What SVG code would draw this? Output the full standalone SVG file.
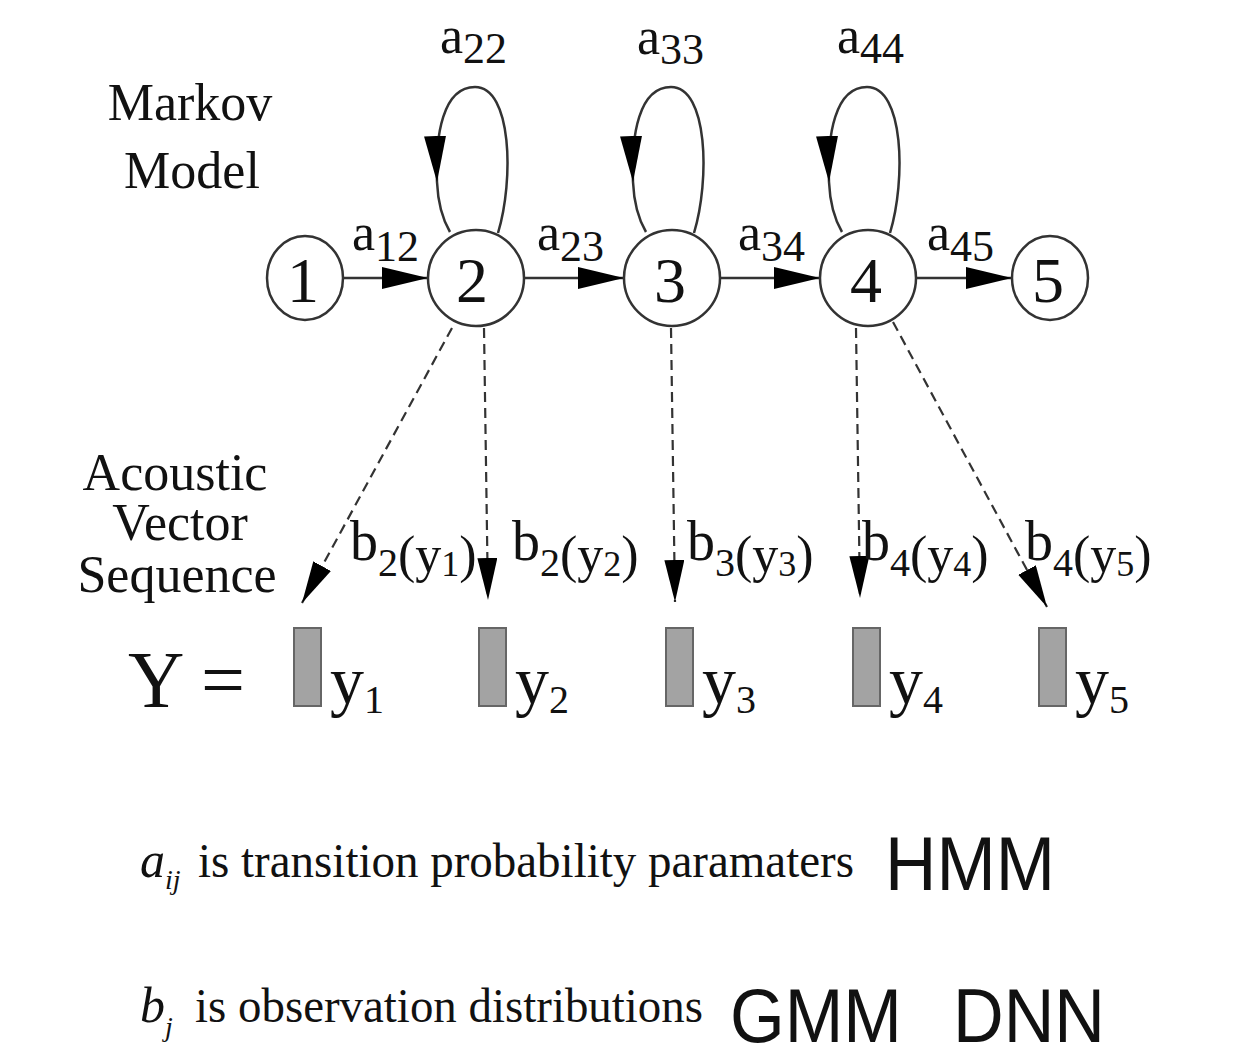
<svg xmlns="http://www.w3.org/2000/svg" width="1246" height="1060" viewBox="0 0 1246 1060">
<style>
.serif{font-family:"Liberation Serif","Times New Roman",serif;fill:#111}
.sans{font-family:"Liberation Sans",Arial,sans-serif;fill:#111}
.node{fill:#fff;stroke:#333;stroke-width:2.5}
.num{font-size:64px;text-anchor:middle}
.edge{fill:none;stroke:#333;stroke-width:2.5}
.dash{fill:none;stroke:#333;stroke-width:2.2;stroke-dasharray:10 6}
.obs{fill:#a3a3a3;stroke:#666;stroke-width:2}
.lbl{font-size:52px}
.sub{font-size:44px}
.bl{font-size:56px}
.bs{font-size:40px}
.bp{font-size:52px}
.bs2{font-size:36px}
</style>
<defs>
<marker id="ah" markerUnits="userSpaceOnUse" markerWidth="48" markerHeight="24" refX="46" refY="11" orient="auto">
<path d="M0,0 L46,11 L0,22 z" fill="#000"/>
</marker>
<marker id="ahd" markerUnits="userSpaceOnUse" markerWidth="44" markerHeight="24" refX="42" refY="10" orient="auto">
<path d="M0,0 L42,10 L0,20 z" fill="#000"/>
</marker>
</defs>

<rect width="1246" height="1060" fill="#fff"/>

<g id="connectors">
<line class="edge" x1="343" y1="278" x2="428" y2="278" marker-end="url(#ah)"/>
<line class="edge" x1="524" y1="278" x2="624" y2="278" marker-end="url(#ah)"/>
<line class="edge" x1="720" y1="278" x2="820" y2="278" marker-end="url(#ah)"/>
<line class="edge" x1="916" y1="278" x2="1012" y2="278" marker-end="url(#ah)"/>
<g id="loop2">
<path class="edge" d="M498,233 C514,180 512,87 475,87 C443,87 435,135 437,182" marker-end="url(#ah)"/>
<path class="edge" d="M437,182 C438,205 443,220 450,232"/>
</g>
<g id="loop3" transform="translate(196,0)">
<path class="edge" d="M498,233 C514,180 512,87 475,87 C443,87 435,135 437,182" marker-end="url(#ah)"/>
<path class="edge" d="M437,182 C438,205 443,220 450,232"/>
</g>
<g id="loop4" transform="translate(392,0)">
<path class="edge" d="M498,233 C514,180 512,87 475,87 C443,87 435,135 437,182" marker-end="url(#ah)"/>
<path class="edge" d="M437,182 C438,205 443,220 450,232"/>
</g>
<line class="dash" x1="452" y1="328" x2="302" y2="603" marker-end="url(#ahd)"/>
<line class="dash" x1="484" y1="328" x2="488" y2="600" marker-end="url(#ahd)"/>
<line class="dash" x1="671" y1="328" x2="675" y2="602" marker-end="url(#ahd)"/>
<line class="dash" x1="856" y1="328" x2="860" y2="598" marker-end="url(#ahd)"/>
<line class="dash" x1="893" y1="322" x2="1047" y2="607" marker-end="url(#ahd)"/>
</g>

<g id="edge-labels" class="serif">
<text class="lbl" x="352" y="250">a<tspan class="sub" dy="11">12</tspan></text>
<text class="lbl" x="537" y="250">a<tspan class="sub" dy="11">23</tspan></text>
<text class="lbl" x="738" y="250">a<tspan class="sub" dy="11">34</tspan></text>
<text class="lbl" x="927" y="250">a<tspan class="sub" dy="11">45</tspan></text>
<text class="lbl" x="440" y="53">a<tspan class="sub" dy="10">22</tspan></text>
<text class="lbl" x="637" y="54">a<tspan class="sub" dy="10">33</tspan></text>
<text class="lbl" x="837" y="53">a<tspan class="sub" dy="10">44</tspan></text>
</g>

<g id="node1"><ellipse class="node" cx="305" cy="278" rx="38" ry="42"/><text class="serif num" x="303" y="302">1</text></g>
<g id="node2"><circle class="node" cx="476" cy="278" r="48"/><text class="serif num" x="472" y="302">2</text></g>
<g id="node3"><circle class="node" cx="672" cy="278" r="48"/><text class="serif num" x="670" y="302">3</text></g>
<g id="node4"><circle class="node" cx="868" cy="278" r="48"/><text class="serif num" x="866" y="302">4</text></g>
<g id="node5"><ellipse class="node" cx="1050" cy="278" rx="38" ry="42"/><text class="serif num" x="1048" y="302">5</text></g>

<g id="titles" class="serif" font-size="52" text-anchor="middle">
<text x="190" y="120">Markov</text>
<text x="192" y="188">Model</text>
<text x="175" y="490">Acoustic</text>
<text x="180" y="540">Vector</text>
<text x="177" y="592">Sequence</text>
</g>

<g id="obs-labels" class="serif">
<text class="bl" x="350" y="560">b<tspan class="bs" dy="16">2</tspan><tspan class="bp" dy="-4">(y</tspan><tspan class="bs2" dy="4">1</tspan><tspan class="bp" dy="-4">)</tspan></text>
<text class="bl" x="512" y="560">b<tspan class="bs" dy="16">2</tspan><tspan class="bp" dy="-4">(y</tspan><tspan class="bs2" dy="4">2</tspan><tspan class="bp" dy="-4">)</tspan></text>
<text class="bl" x="687" y="560">b<tspan class="bs" dy="16">3</tspan><tspan class="bp" dy="-4">(y</tspan><tspan class="bs2" dy="4">3</tspan><tspan class="bp" dy="-4">)</tspan></text>
<text class="bl" x="862" y="560">b<tspan class="bs" dy="16">4</tspan><tspan class="bp" dy="-4">(y</tspan><tspan class="bs2" dy="4">4</tspan><tspan class="bp" dy="-4">)</tspan></text>
<text class="bl" x="1025" y="560">b<tspan class="bs" dy="16">4</tspan><tspan class="bp" dy="-4">(y</tspan><tspan class="bs2" dy="4">5</tspan><tspan class="bp" dy="-4">)</tspan></text>
</g>

<g id="sequence">
<text class="serif" x="128" y="707" font-size="80" textLength="117" lengthAdjust="spacingAndGlyphs">Y =</text>
<rect class="obs" x="294" y="628" width="27" height="78"/>
<rect class="obs" x="479" y="628" width="27" height="78"/>
<rect class="obs" x="666" y="628" width="27" height="78"/>
<rect class="obs" x="853" y="628" width="27" height="78"/>
<rect class="obs" x="1039" y="628" width="27" height="78"/>
<text class="serif" x="330" y="704" font-size="68">y<tspan font-size="40" dy="9">1</tspan></text>
<text class="serif" x="515" y="704" font-size="68">y<tspan font-size="40" dy="9">2</tspan></text>
<text class="serif" x="702" y="704" font-size="68">y<tspan font-size="40" dy="9">3</tspan></text>
<text class="serif" x="889" y="704" font-size="68">y<tspan font-size="40" dy="9">4</tspan></text>
<text class="serif" x="1075" y="704" font-size="68">y<tspan font-size="40" dy="9">5</tspan></text>
</g>

<g id="legend">
<text class="serif" x="140" y="877" font-size="50" font-style="italic">a<tspan font-size="28" dy="12">ij</tspan></text>
<text class="serif" x="198" y="877" font-size="48" textLength="656" lengthAdjust="spacingAndGlyphs">is transition probability paramaters</text>
<text class="sans" x="885" y="890" font-size="76" textLength="170" lengthAdjust="spacingAndGlyphs">HMM</text>
<text class="serif" x="140" y="1022" font-size="50" font-style="italic">b<tspan font-size="28" dy="14">j</tspan></text>
<text class="serif" x="195" y="1022" font-size="48" textLength="508" lengthAdjust="spacingAndGlyphs">is observation distributions</text>
<text class="sans" x="730" y="1042" font-size="76" textLength="172" lengthAdjust="spacingAndGlyphs">GMM</text>
<text class="sans" x="953" y="1042" font-size="76" textLength="152" lengthAdjust="spacingAndGlyphs">DNN</text>
</g>
</svg>
